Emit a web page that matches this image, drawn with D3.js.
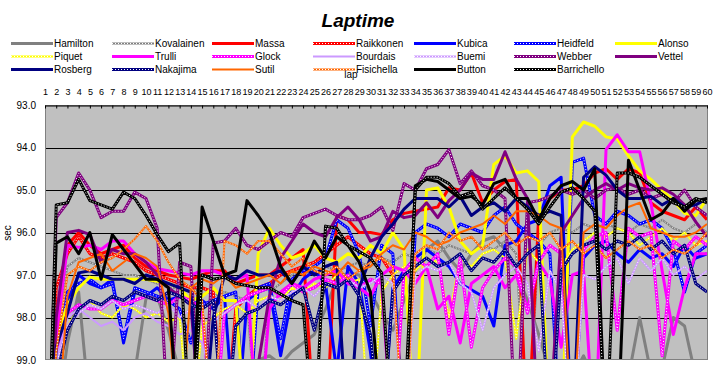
<!DOCTYPE html>
<html><head><meta charset="utf-8">
<script src="https://cdn.jsdelivr.net/npm/d3@7/dist/d3.min.js"></script>
<style>body{margin:0;background:#fff}svg{display:block}text{font-family:"Liberation Sans",Arial,sans-serif}</style>
</head><body>
<svg id="chart" width="717" height="384"></svg>
<script>
const laps = d3.range(1, 61);
const yTickValues = [93, 94, 95, 96, 97, 98, 99];
const drivers = ["Hamilton","Kovalainen","Massa","Raikkonen","Kubica","Heidfeld","Alonso",
  "Piquet","Trulli","Glock","Bourdais","Buemi","Webber","Vettel",
  "Rosberg","Nakajima","Sutil","Fisichella","Button","Barrichello"];

const hamilton = [104,100.5,98.6,97.4,100.2,99.8,99.5,99.4,99.3,97.55, 97.5,98.3,99.3,99.6,99.5,99.4,99.3,99.5,99.2,99.0, 98.9,99.1,98.8,98.6,98.4,97.8,97.1,96.95,97.0,97.4, 97.9,98.3,97.6,96.9,96.4,96.2,96.6,96.9,96.5,96.2, 96.1,96.4,96.9,97.6,98.4,99.3,99.6,99.4,98.9,99.5, 99.8,99.9,99.4,98.0,99.3,99.2,98.0,98.2,99.4,99.8];
const kovalainen = [104,98.2,96.8,96.6,96.7,96.8,96.9,97.0,97.0,97.1, 97.2,97.3,97.3,97.4,97.3,97.5,97.4,97.5,97.6,101, 97.4,97.2,97.0,96.9,97.0,96.8,96.9,96.8,96.7,96.8, 96.6,96.7,96.5,96.6,96.4,96.5,96.3,96.4,96.5,96.3, 96.4,96.2,96.5,101,96.3,96.0,95.9,96.0,95.8,95.9, 95.8,95.9,96.0,95.8,95.9,95.7,95.9,96.0,95.8,96.0];
const massa = [104,98.0,96.3,96.0,96.3,96.5,96.4,96.3,96.6,96.8, 96.9,97.0,97.05,97.1,97.0,96.9,96.9,97.2,97.1,97.0, 97.0,96.8,96.6,96.4,100.5,101,95.6,95.7,96.0,96.0, 96.05,95.7,95.55,95.5,95.45,95.4,94.95,95.0,94.6,95.3, 95.0,94.8,94.75,101,95.6,95.2,95.0,95.0,94.9,94.6, 94.5,94.75,94.5,94.6,95.3,95.5,95.6,95.7,95.4,95.7];
const raikkonen = [104,97.3,96.5,96.1,96.5,96.6,96.5,96.6,96.7,96.9, 97.0,97.1,97.2,97.3,97.3,97.4,101,97.8,97.5,97.3, 97.2,97.0,96.9,96.8,96.7,96.5,96.3,96.1,96.3,96.5, 96.6,97.0,100.5,101,null,null,null,null,null,null, null,null,null,null,null,null,null,null,null,null, null,null,null,null,null,null,null,null,null,null];
const kubica = [104,99.2,97.6,97.0,97.2,97.3,97.1,98.6,97.4,97.5, 97.3,97.6,97.5,97.7,97.6,97.8,97.5,101,97.6,97.4, 97.3,98.9,97.5,97.1,96.9,97.2,99.3,96.8,97.2,98.8, 101,97.3,96.9,96.6,96.4,96.6,96.8,97.2,97.35,97.5, 98.2,96.3,96.2,95.8,95.7,94.9,94.7,101,96.6,96.3, 96.2,96.5,96.7,96.4,96.6,96.5,96.8,96.3,96.6,96.5];
const heidfeld = [104,98.9,97.4,97.2,97.1,97.3,97.2,98.5,97.3,97.4, 97.5,97.6,97.8,98.6,97.7,97.6,97.5,97.4,101,97.3, 97.2,98.5,97.1,96.9,96.8,96.6,95.7,95.9,96.5,98.2, 96.3,96.5,101,96.0,95.8,95.9,96.1,95.8,95.9,96.0, 95.6,95.4,95.8,96.0,96.2,96.5,101,94.35,94.25,95.6, 95.8,95.5,95.6,95.8,95.7,95.9,96.4,97.4,96.5,96.3];
const alonso = [104,98.5,97.7,97.3,97.05,97.1,97.1,97.1,97.1,97.1, 97.15,97.2,97.3,97.6,97.5,97.3,97.6,97.6,101,96.5, 95.9,96.3,96.6,96.5,96.3,96.6,96.7,96.5,96.6,96.3, 96.5,96.0,96.4,101,95.0,94.95,95.4,96.2,96.5,96.3, 94.4,94.2,94.6,94.55,94.8,101,101,93.75,93.4,93.5, 93.75,93.8,94.2,94.55,94.75,95.0,95.25,95.55,95.6,95.2];
const piquet = [104,99.3,98.2,97.8,97.6,97.9,98.0,97.7,97.8,98.0, 97.9,98.1,98.0,101,98.2,98.0,97.8,97.7,97.9,97.6, 97.5,97.6,97.3,97.4,97.2,97.3,97.0,97.2,97.1,101, 97.4,97.0,96.8,96.9,96.6,96.7,98.0,96.6,96.8,96.5, 96.4,96.6,98.5,96.4,96.7,101,96.8,96.4,96.2,96.0, 96.1,95.9,96.0,96.3,96.1,95.9,96.2,96.0,96.3,96.2];
const trulli = [104,98.5,96.3,96.35,96.3,96.4,96.2,96.2,96.5,96.7, 96.85,96.9,96.95,97.0,96.9,96.9,97.0,97.1,97.0,101, 97.8,97.4,97.2,97.3,97.1,97.0,96.9,97.2,97.3,97.5, 97.0,96.8,96.9,97.2,96.8,97.8,97.5,98.6,97.2,97.0, 96.8,97.3,97.0,97.8,96.7,97.1,98.7,97.0,96.9,101, 94.05,93.7,94.1,94.1,95.3,96.9,98.4,97.3,96.5,96.5];
const glock = [104,98.8,97.9,97.7,97.8,97.8,97.6,97.7,97.6,97.5, 97.6,97.7,97.5,97.6,97.8,101,97.9,97.7,97.5,97.4, 97.3,97.5,97.2,97.4,97.3,97.1,97.2,97.0,97.3,97.1, 97.2,101,96.9,96.6,96.8,96.5,98.4,96.6,98.7,97.3, 96.9,96.6,96.8,97.9,96.7,96.3,96.5,101,96.4,96.1, 96.0,98.3,95.9,96.1,96.0,98.9,96.2,96.4,96.1,96.3];
const bourdais = [104,99.0,98.0,97.8,98.0,98.2,98.1,98.3,98.0,97.9, 98.1,98.2,98.4,98.3,98.6,99.5,null,null,null,null, null,null,null,null,null,null,null,null,null,null, null,null,null,null,null,null,null,null,null,null, null,null,null,null,null,null,null,null,null,null, null,null,null,null,null,null,null,null,null,null];
const buemi = [104,99.1,98.2,97.9,97.7,97.8,97.6,97.8,97.7,97.8, 97.9,97.7,98.0,97.8,101,98.1,97.9,97.7,97.6,97.8, 97.5,97.6,97.4,97.3,97.5,97.2,97.3,97.1,97.3,97.2, 97.0,97.2,101,97.0,96.8,96.9,96.7,97.2,97.4,98.3, 97.3,97.0,96.8,97.2,98.8,96.9,97.4,101,97.0,97.1, 96.8,96.6,97.2,96.6,96.9,96.6,97.0,96.8,97.1,96.9];
const webber = [104,95.65,95.3,94.6,95.0,95.65,95.5,95.5,95.05,95.2, 95.9,100.5,96.7,96.8,101,96.25,96.2,95.9,96.3,96.4, 96.2,96.0,96.1,95.65,95.55,95.45,95.6,95.7,95.7,95.6, 95.4,95.95,94.85,95.0,94.5,94.4,94.05,94.85,94.55,94.9, 95.0,95.2,101,95.3,95.25,95.15,95.0,95.1,95.0,95.2, 95.0,94.95,95.1,95.0,95.2,95.1,95.3,95.0,95.4,95.6];
const vettel = [104,98.0,96.0,95.95,96.05,96.7,96.4,96.5,96.5,96.7, 97.0,97.3,97.5,97.7,101,100.5,99.5,99.3,99.4,99.1, 97.5,96.6,96.2,95.8,96.0,96.1,95.65,95.4,95.7,96.2, 96.1,95.5,95.65,95.6,95.3,95.65,95.25,95.0,94.6,94.75, 94.75,94.1,94.75,95.2,101,100.5,96.0,95.6,95.2,95.0, 94.85,95.0,94.85,94.95,95.0,94.95,95.1,95.35,95.75,96.1];
const rosberg = [104,98.7,97.9,96.95,96.9,97.0,97.1,97.1,97.2,97.0, 97.1,97.2,97.3,97.4,101,98.0,97.0,97.1,96.9,97.0, 97.0,96.9,97.2,96.8,97.0,96.8,96.7,101,97.3,96.6, 96.1,95.8,95.45,95.2,95.2,95.2,95.4,95.15,95.6,95.4, 95.3,95.5,95.2,95.4,95.6,95.5,95.6,101,94.7,94.45, 94.65,95.0,95.2,95.2,95.15,95.35,95.2,95.4,95.35,95.2];
const nakajima = [104,99.4,98.3,97.8,97.6,97.7,97.5,97.6,97.4,97.5, 97.6,97.4,97.5,97.7,97.8,97.6,101,98.2,97.9,97.8, 97.6,97.7,97.5,97.3,98.3,97.2,97.3,97.1,97.5,98.4, 101,97.4,97.0,96.8,96.6,96.8,96.7,96.5,96.9,96.6, 96.7,96.4,96.8,96.5,96.3,101,96.9,96.5,96.3,96.2, 96.4,96.2,96.3,96.1,96.4,96.2,96.5,96.3,97.2,97.4];
const sutil = [104,101,97.5,96.7,96.6,96.5,96.9,96.7,96.5,96.6, 96.8,97.9,101,97.3,97.1,97.2,97.0,97.3,97.2,97.1, 97.0,97.2,96.9,97.0,96.8,96.9,97.0,96.7,96.9,96.8, 96.5,96.3,96.4,96.0,96.1,96.3,96.2,96.0,95.9,95.8, 95.6,95.8,95.5,95.5,95.6,95.8,95.9,101,96.0,95.8, 95.9,95.6,95.4,95.3,95.9,96.0,96.1,96.1,96.0,95.8];
const fisichella = [104,98.8,97.0,96.8,96.9,96.7,96.6,96.4,96.15,95.85, 96.2,96.7,97.1,97.3,97.6,101,96.2,96.3,96.5,96.2, 96.2,96.5,96.8,96.6,96.9,97.0,96.8,97.1,96.9,96.7, 96.6,96.8,101,96.5,96.3,96.4,96.0,96.2,96.1,96.4, 96.2,96.0,96.3,96.1,96.2,96.0,96.4,96.2,96.5,96.3, 96.6,96.4,96.2,96.4,96.3,96.6,96.4,96.5,96.3,96.0];
const button = [104,96.25,96.1,96.5,96.0,97.1,96.05,96.4,96.75,97.1, 97.1,97.3,101,101,95.4,96.2,97.0,96.9,95.25,95.6, 96.0,96.8,97.2,96.8,96.2,96.6,96.1,96.3,96.7,97.4, 100.5,99.6,101,94.9,94.75,94.8,95.0,95.2,95.15,95.35, 94.85,94.75,95.2,95.2,95.7,95.2,94.9,94.8,95.0,94.5, 101,101,94.3,95.0,95.7,95.55,95.2,95.5,95.25,95.2];
const barrichello = [104,95.35,95.3,94.75,95.25,95.35,95.45,95.05,95.2,95.6, 96.05,96.45,96.25,101,97.0,97.1,97.05,97.2,97.25,97.3, 97.3,97.45,97.6,97.7,101,95.85,95.9,96.3,96.45,96.6, 96.95,101,100.5,95.0,94.7,94.7,94.85,95.15,95.05,95.45, 95.2,94.95,95.2,95.45,95.8,95.4,95.05,94.95,95.2,95.5, 101,94.6,94.6,94.7,94.9,95.1,95.3,95.4,95.2,95.3];

const lapTimes = [hamilton,kovalainen,massa,raikkonen,kubica,heidfeld,alonso,
  piquet,trulli,glock,bourdais,buemi,webber,vettel,
  rosberg,nakajima,sutil,fisichella,button,barrichello];

// presentation (not data)
const colors = ["#808080","#808080","#FF0000","#FF0000","#0000FF","#0000FF","#FFFF00",
  "#FFFF00","#FF00FF","#FF00FF","#CC99FF","#CC99FF","#800080","#800080",
  "#000080","#000080","#FF6600","#FF6600","#000000","#000000"];
const styles = ["thick","thinDot","thick","dot","thick","dot","thick",
  "thinDot","thick","dot","thin","thinDot","dot","thick",
  "thick","dot","thin","thinDot","thick","dot"];

const L = 45, R = 708, T = 105, B = 360;
const svg = d3.select("#chart");
const x = d3.scalePoint().domain(laps).range([L, R - 1]);
const y = d3.scaleLinear().domain([93, 99]).range([T, B]);

svg.append("rect").attr("x", L).attr("y", T).attr("width", R - L).attr("height", B - T).attr("fill", "#C0C0C0");

svg.append("g").selectAll("line").data(yTickValues.filter(v => v > 93 && v < 99)).join("line")
  .attr("x1", L).attr("x2", R).attr("y1", d => Math.round(y(d)) + 0.5).attr("y2", d => Math.round(y(d)) + 0.5)
  .attr("stroke", "#000").attr("stroke-width", 1);

svg.append("defs").append("clipPath").attr("id", "plotclip")
  .append("rect").attr("x", L).attr("y", T).attr("width", R - L).attr("height", B - T);

const line = d3.line().defined(d => d.v != null).x(d => x(d.lap)).y(d => y(d.v));
const gLines = svg.append("g").attr("clip-path", "url(#plotclip)");

function drawStyled(g, pathD, color, style) {
  const w = (style === "thick" || style === "dot") ? 3 : 2;
  g.append("path").attr("d", pathD).attr("fill", "none").attr("stroke", color)
    .attr("stroke-width", w).attr("stroke-linejoin", "round");
  if (style === "dot" || style === "thinDot") {
    g.append("path").attr("d", pathD).attr("fill", "none").attr("stroke", "#fff")
      .attr("stroke-width", 1).attr("stroke-dasharray", "1,2");
  }
}

lapTimes.forEach((vals, i) => {
  const pts = laps.map((lap, j) => ({ lap, v: vals[j] }));
  drawStyled(gLines.append("g"), line(pts), colors[i], styles[i]);
});

svg.append("rect").attr("x", L + 0.5).attr("y", T + 0.5).attr("width", R - L - 1).attr("height", B - T - 1)
  .attr("fill", "none").attr("stroke", "#808080");

const xAxis = d3.axisTop(x).tickSizeInner(-3).tickSizeOuter(0).tickPadding(11);
const gx = svg.append("g").attr("transform", `translate(0,${T + 0.5})`).call(xAxis);
gx.select(".domain").attr("stroke", "#000");
gx.selectAll(".tick line").attr("stroke", "#000");
gx.selectAll("text").attr("font-size", 9).attr("font-family", "'Liberation Sans Narrow','Liberation Sans',Arial,sans-serif").attr("fill", "#000");

const yAxis = d3.axisLeft(y).tickValues(yTickValues).tickSize(0).tickPadding(9).tickFormat(d3.format(".1f"));
const gy = svg.append("g").attr("transform", `translate(${L},0)`).call(yAxis);
gy.select(".domain").remove();
gy.selectAll("text").attr("font-size", 10).attr("fill", "#000");

svg.append("text").attr("transform", "translate(11,233) rotate(-90)").attr("text-anchor", "middle")
  .attr("font-size", 10).text("sec");
svg.append("text").attr("x", 351).attr("y", 78).attr("text-anchor", "middle").attr("font-size", 10).text("lap");

svg.append("text").attr("x", 358).attr("y", 27).attr("text-anchor", "middle")
  .attr("font-size", 19).attr("font-weight", "bold").attr("font-style", "italic").text("Laptime");

const legX = d3.scaleLinear().domain([0, 6]).range([11, 615]);
const legY = d3.scaleLinear().domain([0, 2]).range([43, 69]);
const gLeg = svg.append("g");
drivers.forEach((name, i) => {
  const col = i % 7, row = Math.floor(i / 7);
  const lx = Math.round(legX(col)), ly = Math.round(legY(row)) + 0.5;
  const g = gLeg.append("g");
  drawStyled(g, `M${lx},${ly}H${lx + 42}`, colors[i], styles[i]);
  g.append("text").attr("x", lx + 43).attr("y", ly + 3.5).attr("font-size", 10).text(name);
});
</script>
</body></html>
